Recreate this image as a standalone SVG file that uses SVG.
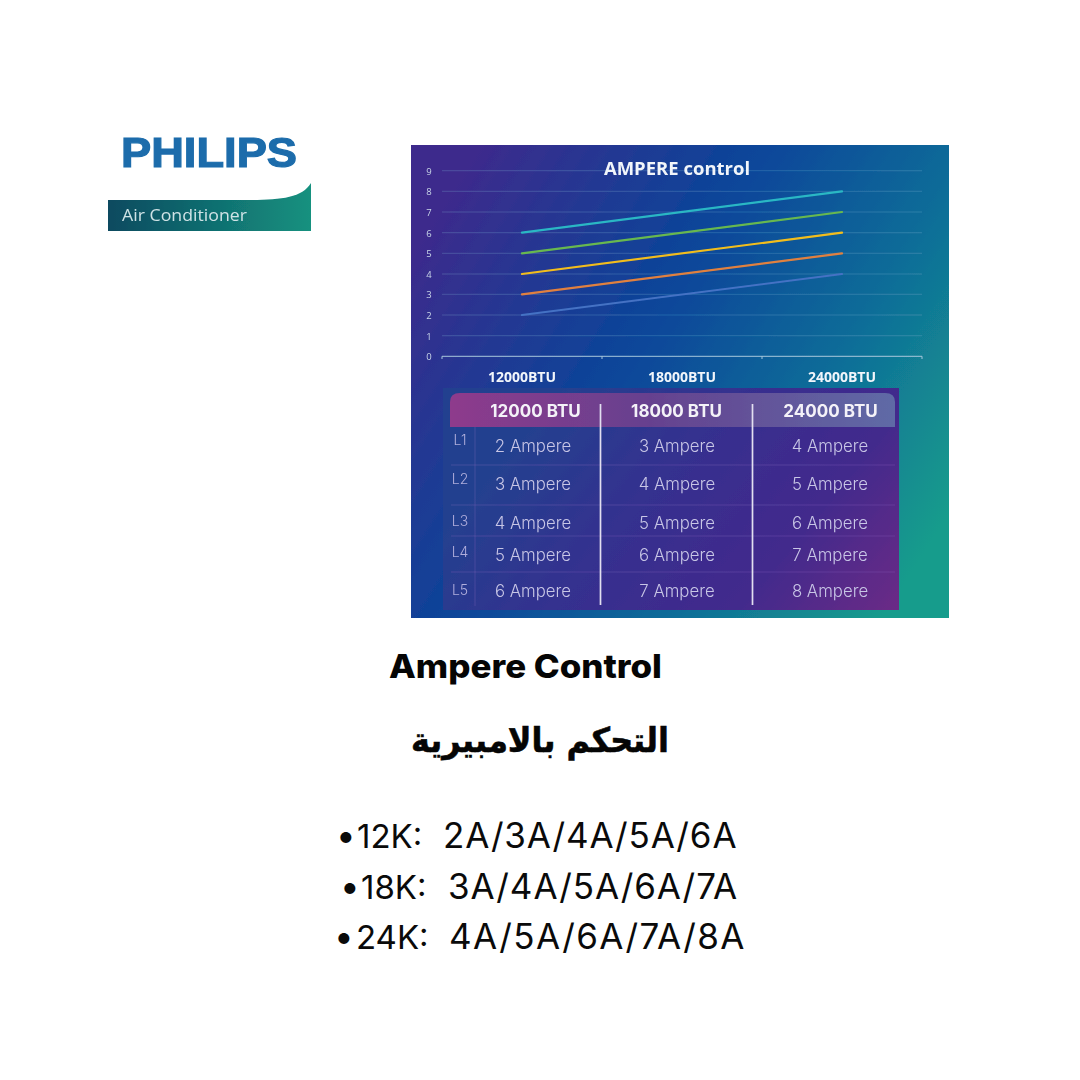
<svg xmlns="http://www.w3.org/2000/svg" width="1080" height="1080" viewBox="0 0 1080 1080">
<style>
.grid{stroke:#7fb0cf;stroke-opacity:.3;stroke-width:1}
.ser{fill:none;stroke-width:2.2;stroke-linecap:round}
.ax{font:500 9.5px "Open Sans",sans-serif;fill:#c9d6e8;text-anchor:middle}
.cat{font:700 14px "Open Sans",sans-serif;fill:#f2f6fb;text-anchor:middle}
.hd{font:700 17px "Inter",sans-serif;fill:#f4f2f8;text-anchor:middle}
.cell{font:300 16.8px "Inter",sans-serif;fill:#c8c6e6;text-anchor:middle}
.lv{font:300 14px "Inter",sans-serif;fill:#b0aedc;text-anchor:middle}
.rule{stroke:#8d6cc0;stroke-opacity:.3;stroke-width:1}
.col{stroke:#e2dff0;stroke-width:1.7}
.bul{font:400 35px "Inter","Open Sans",sans-serif;fill:#0a0a0a}
</style>
<defs>
<filter id="soft" x="-2%" y="-2%" width="104%" height="104%"><feGaussianBlur stdDeviation=".45"/></filter>
<linearGradient id="panel" x1="0" y1=".22" x2="1" y2=".78"><stop offset="0" stop-color="#3d2a8c"/><stop offset=".42" stop-color="#07479a"/><stop offset=".72" stop-color="#0f6f98"/><stop offset="1" stop-color="#179c8c"/></linearGradient>
<linearGradient id="tbl" x1="0" y1=".6" x2="1" y2="1"><stop offset="0" stop-color="#23418f"/><stop offset=".35" stop-color="#35308f"/><stop offset=".7" stop-color="#43298c"/><stop offset="1" stop-color="#6b2a86"/></linearGradient>
<linearGradient id="head" x1="0" y1="0" x2="1" y2="0"><stop offset="0" stop-color="#8e3a8c"/><stop offset=".45" stop-color="#66418f"/><stop offset="1" stop-color="#5f6aa6"/></linearGradient>
<linearGradient id="band" x1="0" y1="0" x2="1" y2="0"><stop offset="0" stop-color="#0b4a60"/><stop offset="1" stop-color="#15917f"/></linearGradient>
</defs>
<rect width="1080" height="1080" fill="#fff"/>
<g id="logo" filter="url(#soft)">
<text x="121" y="167" font-family="Liberation Sans, sans-serif" font-weight="700" font-size="42" fill="#1b6cab" stroke="#1b6cab" stroke-width="1.2" textLength="176" lengthAdjust="spacingAndGlyphs">PHILIPS</text>
<path d="M108 200H248C280 200 302 198 311 183V231H108Z" fill="url(#band)"/>
<text x="122" y="220.500" font-family="Open Sans, sans-serif" font-size="16.5" fill="#cfe3e6" textLength="125" lengthAdjust="spacingAndGlyphs">Air Conditioner</text>
</g>
<g id="chart" filter="url(#soft)">
<rect x="411" y="145" width="538" height="473" fill="url(#panel)"/>
<g id="gridlines">
<path class="grid" d="M442 170.7H922M442 191.3H922M442 212H922M442 232.7H922M442 253.3H922M442 274H922M442 294.3H922M442 315H922M442 335.7H922"/>
<path d="M442 359V356.3H922V359M602 356.3V359M762 356.3V359" fill="none" stroke="#a9c8dd" stroke-width="1"/>
</g>
<g id="axis-labels">
<text class="ax" x="429" y="174.5">9</text><text class="ax" x="429" y="195">8</text><text class="ax" x="429" y="215.5">7</text><text class="ax" x="429" y="236.5">6</text><text class="ax" x="429" y="257">5</text><text class="ax" x="429" y="277.5">4</text><text class="ax" x="429" y="298">3</text><text class="ax" x="429" y="318.5">2</text><text class="ax" x="429" y="339.5">1</text><text class="ax" x="429" y="360">0</text>
<text class="cat" x="522" y="382">12000BTU</text><text class="cat" x="682" y="382">18000BTU</text><text class="cat" x="842" y="382">24000BTU</text>
</g>
<text id="chart-title" x="677" y="175" font-family="Open Sans, sans-serif" font-weight="700" font-size="18.5" fill="#f1f5fa" text-anchor="middle">AMPERE control</text>
<g id="series">
<path class="ser" stroke="#4472c4" d="M522 315L842 274"/>
<path class="ser" stroke="#e0803f" d="M522 294.3L842 253.3"/>
<path class="ser" stroke="#f2bd1f" d="M522 274L842 232.7"/>
<path class="ser" stroke="#68b84f" d="M522 253.3L842 212"/>
<path class="ser" stroke="#2bb7c4" d="M522 232.7L842 191.3"/>
</g>
</g>
<g id="table" filter="url(#soft)">
<rect x="443" y="388" width="456" height="222" fill="url(#tbl)"/>
<path d="M450 427V402Q450 393 460 393H885Q895 393 895 402V427Z" fill="url(#head)"/>
<path class="rule" d="M451 465H895M451 505H895M451 536H895M451 572H895M475 427V606"/>
<path class="col" d="M600.5 404V605M752.5 404V605"/>
<g id="table-header"><text class="hd" x="535.5" y="417">12000 BTU</text><text class="hd" x="676.5" y="417">18000 BTU</text><text class="hd" x="830.5" y="417">24000 BTU</text></g>
<g id="table-levels"><text class="lv" x="460" y="445">L1</text><text class="lv" x="460" y="484">L2</text><text class="lv" x="460" y="526">L3</text><text class="lv" x="460" y="557">L4</text><text class="lv" x="460" y="595">L5</text></g>
<g id="table-cells">
<text class="cell" x="533" y="452">2 Ampere</text><text class="cell" x="677" y="452">3 Ampere</text><text class="cell" x="830" y="452">4 Ampere</text>
<text class="cell" x="533" y="490">3 Ampere</text><text class="cell" x="677" y="490">4 Ampere</text><text class="cell" x="830" y="490">5 Ampere</text>
<text class="cell" x="533" y="529">4 Ampere</text><text class="cell" x="677" y="529">5 Ampere</text><text class="cell" x="830" y="529">6 Ampere</text>
<text class="cell" x="533" y="561">5 Ampere</text><text class="cell" x="677" y="561">6 Ampere</text><text class="cell" x="830" y="561">7 Ampere</text>
<text class="cell" x="533" y="597">6 Ampere</text><text class="cell" x="677" y="597">7 Ampere</text><text class="cell" x="830" y="597">8 Ampere</text>
</g>
</g>
<g id="captions">
<text x="389" y="678" font-family="Inter, sans-serif" font-weight="800" font-size="33" fill="#050505" textLength="273" lengthAdjust="spacingAndGlyphs">Ampere Control</text>
<text x="540" y="752" font-family="DejaVu Sans, sans-serif" font-weight="700" font-size="34" fill="#050505" stroke="#050505" stroke-width=".6" text-anchor="middle" direction="rtl" textLength="258" lengthAdjust="spacingAndGlyphs">التحكم بالامبيرية</text>
</g>
<g id="specs">
<text class="bul" y="848"><tspan x="336">•</tspan><tspan x="357" font-size="33">12K:</tspan><tspan x="443" letter-spacing=".85">2A/3A/4A/5A/6A</tspan></text>
<text class="bul" y="899"><tspan x="340">•</tspan><tspan x="361" font-size="33">18K:</tspan><tspan x="448" letter-spacing=".93">3A/4A/5A/6A/7A</tspan></text>
<text class="bul" y="949"><tspan x="334">•</tspan><tspan x="356" font-size="33">24K:</tspan><tspan x="449" letter-spacing="1.4">4A/5A/6A/7A/8A</tspan></text>
</g>
</svg>
